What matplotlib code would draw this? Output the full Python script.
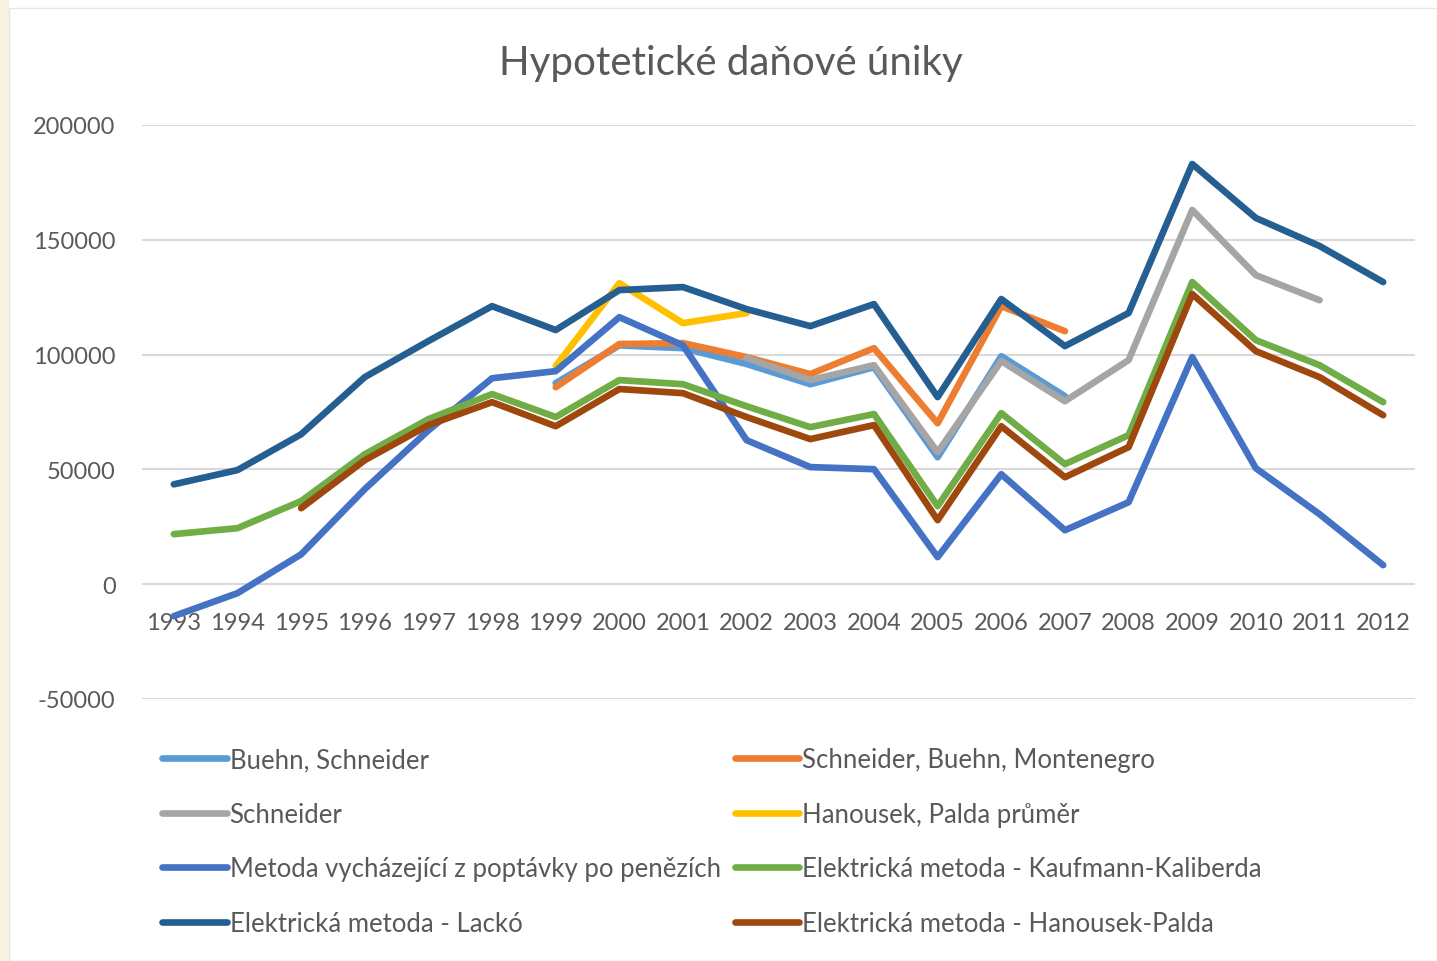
import numpy as np
import matplotlib
matplotlib.use("Agg")
import matplotlib.pyplot as plt
from matplotlib.patches import Rectangle

nan = np.nan
years = [str(y) for y in range(1993, 2013)]

buehn_schneider = [nan, nan, nan, nan, nan, nan, 87600, 104000, 102800, 95900,
                   87100, 94500, 55300, 99300, 81900, nan, nan, nan, nan, nan]
schneider_buehn_montenegro = [nan, nan, nan, nan, nan, nan, 85800, 104600, 105000, 98900,
                              91500, 102800, 70100, 121100, 110200, nan, nan, nan, nan, nan]
schneider = [nan, nan, nan, nan, nan, nan, nan, nan, nan, 98500,
             88900, 95400, 57500, 97200, 79700, 97600, 163000, 134600, 123700, nan]
hanousek_palda_prumer = [nan, nan, nan, nan, nan, nan, 95000, 131100, 113700, 118100,
                         nan, nan, nan, nan, nan, nan, nan, nan, nan, nan]
metoda_poptavky = [-13900, -3900, 13000, 41400, 67000, 89700, 92800, 116300, 104000, 62700,
                   51000, 50100, 11800, 47900, 23500, 35700, 98900, 50500, 30500, 8300]
kaufmann_kaliberda = [21800, 24400, 36200, 56600, 71900, 82800, 72800, 88900, 87100, 77500,
                      68400, 74100, 34000, 74500, 52300, 64900, 131600, 106300, 95400, 79300]
lacko = [43500, 49700, 65300, 90200, 105900, 121100, 110700, 128100, 129400, 119800,
         112400, 122000, 81500, 124200, 103700, 118100, 183000, 159500, 147300, 131600]
hanousek_palda = [nan, nan, 33100, 54000, 69300, 79300, 68800, 85000, 83200, 72800,
                  63200, 69300, 27900, 68800, 46600, 59700, 126400, 101500, 90200, 73600]

series = [
    ("Buehn, Schneider", buehn_schneider, "#5B9BD5"),
    ("Schneider, Buehn, Montenegro", schneider_buehn_montenegro, "#ED7D31"),
    ("Schneider", schneider, "#A5A5A5"),
    ("Hanousek, Palda průměr", hanousek_palda_prumer, "#FFC000"),
    ("Metoda vycházející z poptávky po penězích", metoda_poptavky, "#4472C4"),
    ("Elektrická metoda - Kaufmann-Kaliberda", kaufmann_kaliberda, "#70AD47"),
    ("Elektrická metoda - Lackó", lacko, "#255E91"),
    ("Elektrická metoda - Hanousek-Palda", hanousek_palda, "#9E480E"),
]

plt.rcParams['font.family'] = ['Lato', 'DejaVu Sans']
text_color = "#595959"

fig = plt.figure(figsize=(14.37, 9.62), dpi=100)
fig.patch.set_facecolor("white")
# slide strip on the left and chart frame
fig.patches.append(Rectangle((0, 0), 9/1437, 1, transform=fig.transFigure,
                             facecolor="#F7F3DC", edgecolor="none", zorder=-5))
fig.patches.append(Rectangle((9/1437, 0), 1 - 9/1437, 1 - 9/962, transform=fig.transFigure,
                             facecolor="white", edgecolor="#E6E6E6", linewidth=1, zorder=-5))

ax = fig.add_axes([142/1437, 1 - 700/962, (1415 - 142)/1437, (700 - 126)/962])
ax.set_facecolor("none")
ax.set_zorder(2)
x = np.arange(len(years))
handles = {}
for name, vals, color in series:
    h, = ax.plot(x, np.array(vals, dtype=float), color=color, lw=4.8,
                 solid_capstyle="round", solid_joinstyle="round", label=name)
    handles[name] = h

ax.set_xlim(-0.5, len(years) - 0.5)
ax.set_ylim(-50000, 200000)
ax.set_yticks([-50000, 0, 50000, 100000, 150000, 200000])
ax.set_yticklabels(["-50000", "0", "50000", "100000", "150000", "200000"])
ax.set_xticks(x)
ax.set_xticklabels(years)
ax.grid(axis="y", color="#D9D9D9", lw=1.5)
ax.set_axisbelow(True)
for s in ["top", "right", "left"]:
    ax.spines[s].set_visible(False)
ax.spines["bottom"].set_position(("data", 0))
ax.spines["bottom"].set_visible(False)
ax.tick_params(axis="x", length=0, pad=20, labelsize=17, labelcolor=text_color)
ax.tick_params(axis="y", length=0, pad=19, labelsize=17, labelcolor=text_color)

fig.text(0.5085, 1 - 64/962, "Hypotetické daňové úniky", ha="center", va="center",
         fontsize=29, color=text_color)

order = ["Buehn, Schneider", "Schneider",
         "Metoda vycházející z poptávky po penězích", "Elektrická metoda - Lackó",
         "Schneider, Buehn, Montenegro", "Hanousek, Palda průměr",
         "Elektrická metoda - Kaufmann-Kaliberda", "Elektrická metoda - Hanousek-Palda"]
leg = fig.legend([handles[n] for n in order], order, ncol=2, loc="upper left",
                 bbox_to_anchor=(152/1437, 1 - 738/962), frameon=False,
                 fontsize=18.5, handlelength=2.5, handletextpad=0.12,
                 columnspacing=0.55, labelspacing=1.15, borderaxespad=0)
for t in leg.get_texts():
    t.set_color(text_color)

fig.savefig("out.png", dpi=100, facecolor=fig.get_facecolor())
